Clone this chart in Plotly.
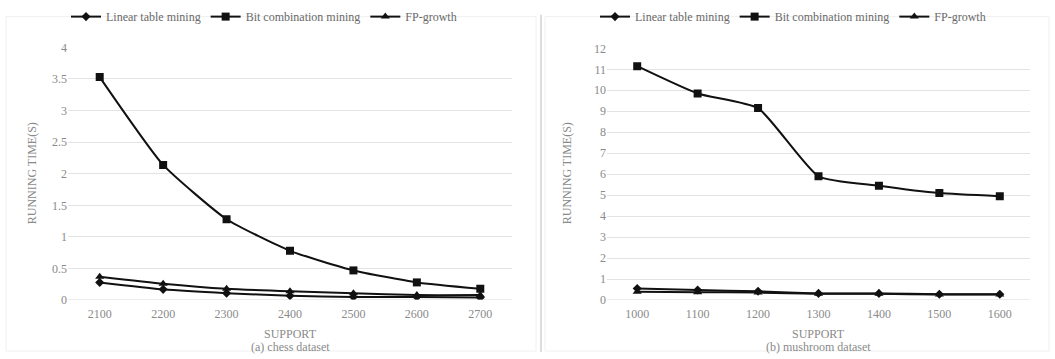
import plotly.graph_objects as go

# Support thresholds
chess_support = ["2100", "2200", "2300", "2400", "2500", "2600", "2700"]
mushroom_support = ["1000", "1100", "1200", "1300", "1400", "1500", "1600"]

# Running time (s) on the chess dataset
chess_linear = [0.28, 0.17, 0.11, 0.07, 0.05, 0.05, 0.04]
chess_bit = [3.53, 2.14, 1.28, 0.78, 0.47, 0.28, 0.18]
chess_fp = [0.37, 0.26, 0.18, 0.14, 0.11, 0.08, 0.08]

# Running time (s) on the mushroom dataset
mush_linear = [0.55, 0.48, 0.42, 0.32, 0.32, 0.28, 0.28]
mush_bit = [11.15, 9.85, 9.15, 5.9, 5.45, 5.1, 4.95]
mush_fp = [0.40, 0.38, 0.36, 0.30, 0.30, 0.27, 0.27]

series_names = ["Linear table mining", "Bit combination mining", "FP-growth"]
symbols = ["diamond", "square", "triangle-up"]
sizes = [7, 8, 8]

W, H = 1055, 359
FONT = "Liberation Serif"
GRAY = "#8a8a8a"


def px(x):
    return x / W


def py(y):
    return 1 - y / H


fig = go.Figure()

panels = [
    ("x", "y", "legend", chess_support, [chess_linear, chess_bit, chess_fp]),
    ("x2", "y2", "legend2", mushroom_support, [mush_linear, mush_bit, mush_fp]),
]
for xa, ya, lg, cats, values in panels:
    for name, sym, sz, vals in zip(series_names, symbols, sizes, values):
        fig.add_trace(go.Scatter(
            x=cats, y=vals, name=name, xaxis=xa, yaxis=ya, legend=lg,
            mode="lines+markers",
            line=dict(color="#111111", width=2, shape="spline", smoothing=0.5),
            marker=dict(symbol=sym, size=sz, color="#111111"),
        ))

tick_font = dict(family=FONT, size=12, color=GRAY)
x_common = dict(type="category", range=[-0.5, 6.5], showgrid=False, showline=False,
                zeroline=False, ticks="outside", ticklen=2, tickcolor="rgba(0,0,0,0)",
                tickfont=tick_font)
y_common = dict(showline=False, zeroline=False, ticks="", showgrid=True,
                gridcolor="#e3e3e3", gridwidth=1, tickfont=tick_font)

fig.update_layout(
    width=W, height=H,
    margin=dict(l=0, r=0, t=0, b=0),
    paper_bgcolor="white", plot_bgcolor="white",
    font=dict(family=FONT, color=GRAY),
    xaxis=dict(domain=[px(68), px(512)], anchor="y", **x_common),
    yaxis=dict(domain=[py(305), py(42)], range=[0, 4], dtick=0.5, anchor="x", **y_common),
    xaxis2=dict(domain=[px(607), px(1030)], anchor="y2", **x_common),
    yaxis2=dict(domain=[py(305), py(43)], range=[0, 12], dtick=1, anchor="x2", **y_common),
    legend=dict(orientation="h", x=px(66), y=py(10), xanchor="left", yanchor="middle",
                font=dict(family=FONT, size=12, color="#6a6a6a"),
                bgcolor="rgba(0,0,0,0)", itemwidth=30, tracegroupgap=0),
    legend2=dict(orientation="h", x=px(595), y=py(10), xanchor="left", yanchor="middle",
                 font=dict(family=FONT, size=12, color="#6a6a6a"),
                 bgcolor="rgba(0,0,0,0)", itemwidth=30, tracegroupgap=0),
)

# Bottom axis lines of each plot area
for x0, x1, ref in [(68, 512, "y"), (607, 1030, "y2")]:
    fig.add_shape(type="line", xref="paper", yref=ref,
                  x0=px(x0), x1=px(x1), y0=0, y1=0,
                  line=dict(color="#d0d0d0", width=1))

# Panel frames and divider
fig.add_shape(type="rect", xref="paper", yref="paper",
              x0=px(6), x1=px(536), y0=py(358), y1=py(10),
              line=dict(color="#f0f0f0", width=1))
fig.add_shape(type="rect", xref="paper", yref="paper",
              x0=px(545), x1=px(1049), y0=py(358), y1=py(10),
              line=dict(color="#f0f0f0", width=1))
fig.add_shape(type="line", xref="paper", yref="paper",
              x0=px(541), x1=px(541), y0=0, y1=py(8),
              line=dict(color="#dddddd", width=2))

# Axis titles and captions
for cx, cap in [(290, "(a) chess dataset"), (818, "(b) mushroom dataset")]:
    fig.add_annotation(x=px(cx), y=py(340), xref="paper", yref="paper",
                       xanchor="center", yanchor="middle",
                       text="SUPPORT", showarrow=False,
                       font=dict(family=FONT, size=12, color=GRAY))
    fig.add_annotation(x=px(cx), y=py(354), xref="paper", yref="paper",
                       xanchor="center", yanchor="middle",
                       text=cap, showarrow=False,
                       font=dict(family=FONT, size=12, color=GRAY))

for tx in [32, 567]:
    fig.add_annotation(x=px(tx), y=py(173), xref="paper", yref="paper",
                       xanchor="center", yanchor="middle",
                       text="RUNNING TIME(S)", textangle=-90, showarrow=False,
                       font=dict(family=FONT, size=12, color=GRAY))

fig.write_html("out.html")
